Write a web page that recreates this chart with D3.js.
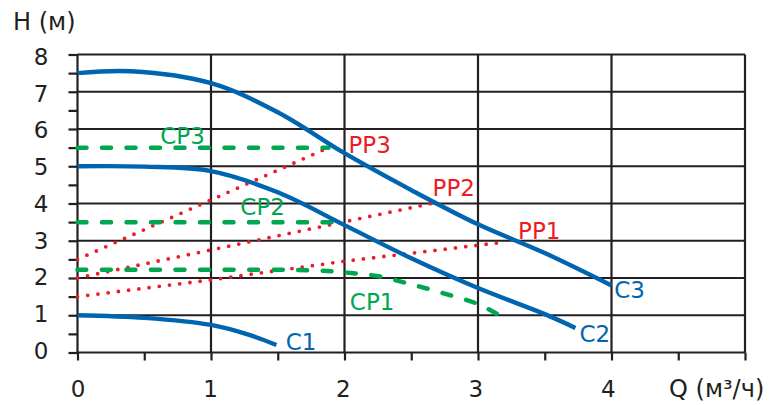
<!DOCTYPE html>
<html><head><meta charset="utf-8">
<script src="https://cdn.jsdelivr.net/npm/d3@7"></script>
<style>
html,body{margin:0;padding:0;background:#fff;}
svg text{font-family:"DejaVu Sans",Verdana,sans-serif;}
</style>
</head><body>
<svg id="chart" width="777" height="405"></svg>
<script>
// ---- data ----
const xTicks = [0, 1, 2, 3, 4];
const yTicks = [0, 1, 2, 3, 4, 5, 6, 7, 8];
const yLabel = "H (м)";
const xLabel = "Q (м³/ч)";

const c3Q = [0, 0.4, 1, 1.5, 2, 2.5, 3, 3.5, 4];
const c3H = [7.5, 7.55, 7.23, 6.45, 5.35, 4.36, 3.44, 2.67, 1.8];
const c2Q = [0, 0.5, 1, 1.5, 2, 2.5, 3, 3.5, 3.73];
const c2H = [5.0, 4.99, 4.87, 4.3, 3.42, 2.53, 1.73, 1.03, 0.66];
const c1Q = [0, 0.5, 1, 1.28, 1.49];
const c1H = [1.0, 0.93, 0.74, 0.48, 0.2];

const cp3Q = [0, 1.88];
const cp3H = [5.5, 5.5];
const cp2Q = [0, 1.92];
const cp2H = [3.5, 3.5];
const cp1Q = [0, 1.5, 1.8, 2.0, 2.25, 2.5, 2.75, 3.0, 3.16];
const cp1H = [2.22, 2.22, 2.2, 2.15, 2.05, 1.83, 1.58, 1.3, 1.0];

const pp3Q = [0, 1.88];
const pp3H = [2.5, 5.5];
const pp2Q = [0, 2.65];
const pp2H = [2.0, 4.0];
const pp1Q = [0, 1, 2, 3.21];
const pp1H = [1.5, 1.95, 2.45, 2.97];

const labels = [
  {t:"C3", q:4.02, h:1.45, c:"blue"},
  {t:"C2", q:3.76, h:0.27, c:"blue"},
  {t:"C1", q:1.56, h:0.07, c:"blue"},
  {t:"CP3", q:0.62, h:5.6, c:"green"},
  {t:"CP2", q:1.22, h:3.7, c:"green"},
  {t:"CP1", q:2.04, h:1.14, c:"green"},
  {t:"PP3", q:2.03, h:5.36, c:"red"},
  {t:"PP2", q:2.66, h:4.2, c:"red"},
  {t:"PP1", q:3.3, h:3.04, c:"red"}
];

// ---- drawing ----
const FS = "23px";
const colors = {blue:"#0065b1", green:"#00a650", red:"#ed1c24", grid:"#231f20"};
const svg = d3.select("#chart");
const x = d3.scaleLinear().domain([0, 5]).range([77.5, 745]);
const y = d3.scaleLinear().domain([0, 8]).range([352.5, 54.5]);

const g = svg.append("g");
// grid
g.selectAll(".vg").data(d3.range(0, 6)).enter().append("line")
  .attr("x1", d => x(d)).attr("x2", d => x(d))
  .attr("y1", y(0)).attr("y2", y(8))
  .attr("stroke", colors.grid).attr("stroke-width", 2.2);
g.selectAll(".hg").data(d3.range(0, 9)).enter().append("line")
  .attr("x1", x(0)).attr("x2", x(5))
  .attr("y1", d => y(d)).attr("y2", d => y(d))
  .attr("stroke", colors.grid).attr("stroke-width", 2.2);

// axes
const fmtY = d => Number.isInteger(d) && yTicks.includes(d) ? String(d) : "";
const fmtX = d => Number.isInteger(d) && xTicks.includes(d) ? String(d) : "";
const ya = g.append("g").attr("transform", `translate(${x(0)},0)`)
  .call(d3.axisLeft(y).tickValues(d3.range(0, 8.01, 0.5)).tickFormat(fmtY).tickSize(9).tickPadding(20));
const xa = g.append("g").attr("transform", `translate(0,${y(0)})`)
  .call(d3.axisBottom(x).tickValues(d3.range(0, 5.01, 0.5)).tickFormat(fmtX).tickSize(8).tickPadding(20));
[ya, xa].forEach(a => {
  a.select(".domain").remove();
  a.selectAll(".tick line").attr("stroke", colors.grid).attr("stroke-width", 2.2);
  a.selectAll(".tick text").attr("fill", "#231f20").style("font-size", FS)
    .style("font-family", '"DejaVu Sans", Verdana, sans-serif');
});
ya.selectAll(".tick text").attr("dy", d => (0.32*23 + d*0.5 - 1.5) + "px");
xa.selectAll(".tick text").attr("dx", d => (-d*0.9) + "px");

svg.append("text").attr("x", 13).attr("y", 30).attr("fill", "#231f20")
  .style("font-size", "24px").text(yLabel);
svg.append("text").attr("x", 669).attr("y", 397).attr("fill", "#231f20")
  .style("font-size", "24px").text(xLabel);

const toPts = (qs, hs) => qs.map((q, i) => [q, hs[i]]);
const line = d3.line().x(d => x(d[0])).y(d => y(d[1])).curve(d3.curveCatmullRom.alpha(0.5));
const lineLin = d3.line().x(d => x(d[0])).y(d => y(d[1]));

const curves = [
  {p: toPts(pp3Q, pp3H), type:"pp"},
  {p: toPts(pp2Q, pp2H), type:"pp"},
  {p: toPts(pp1Q, pp1H), type:"pp"},
  {p: toPts(cp3Q, cp3H), type:"cp"},
  {p: toPts(cp2Q, cp2H), type:"cp"},
  {p: toPts(cp1Q, cp1H), type:"cp"},
  {p: toPts(c3Q, c3H), type:"c"},
  {p: toPts(c2Q, c2H), type:"c"},
  {p: toPts(c1Q, c1H), type:"c"}
];
curves.forEach(cv => {
  const path = g.append("path").attr("d", cv.type === "pp" ? lineLin(cv.p) : line(cv.p)).attr("fill", "none");
  if (cv.type === "c") {
    path.attr("stroke", colors.blue).attr("stroke-width", 4.4).attr("stroke-linecap", "butt");
  } else if (cv.type === "cp") {
    path.attr("stroke", colors.green).attr("stroke-width", 4.5)
      .attr("stroke-linecap", "round").attr("stroke-dasharray", "9 15.5");
  } else {
    path.attr("stroke", colors.red).attr("stroke-width", 3.8)
      .attr("stroke-linecap", "round").attr("stroke-dasharray", "0 10.3");
  }
});

svg.selectAll(".lbl").data(labels).enter().append("text")
  .attr("x", d => x(d.q)).attr("y", d => y(d.h))
  .attr("fill", d => colors[d.c]).style("font-size", FS).text(d => d.t);
</script>
</body></html>
